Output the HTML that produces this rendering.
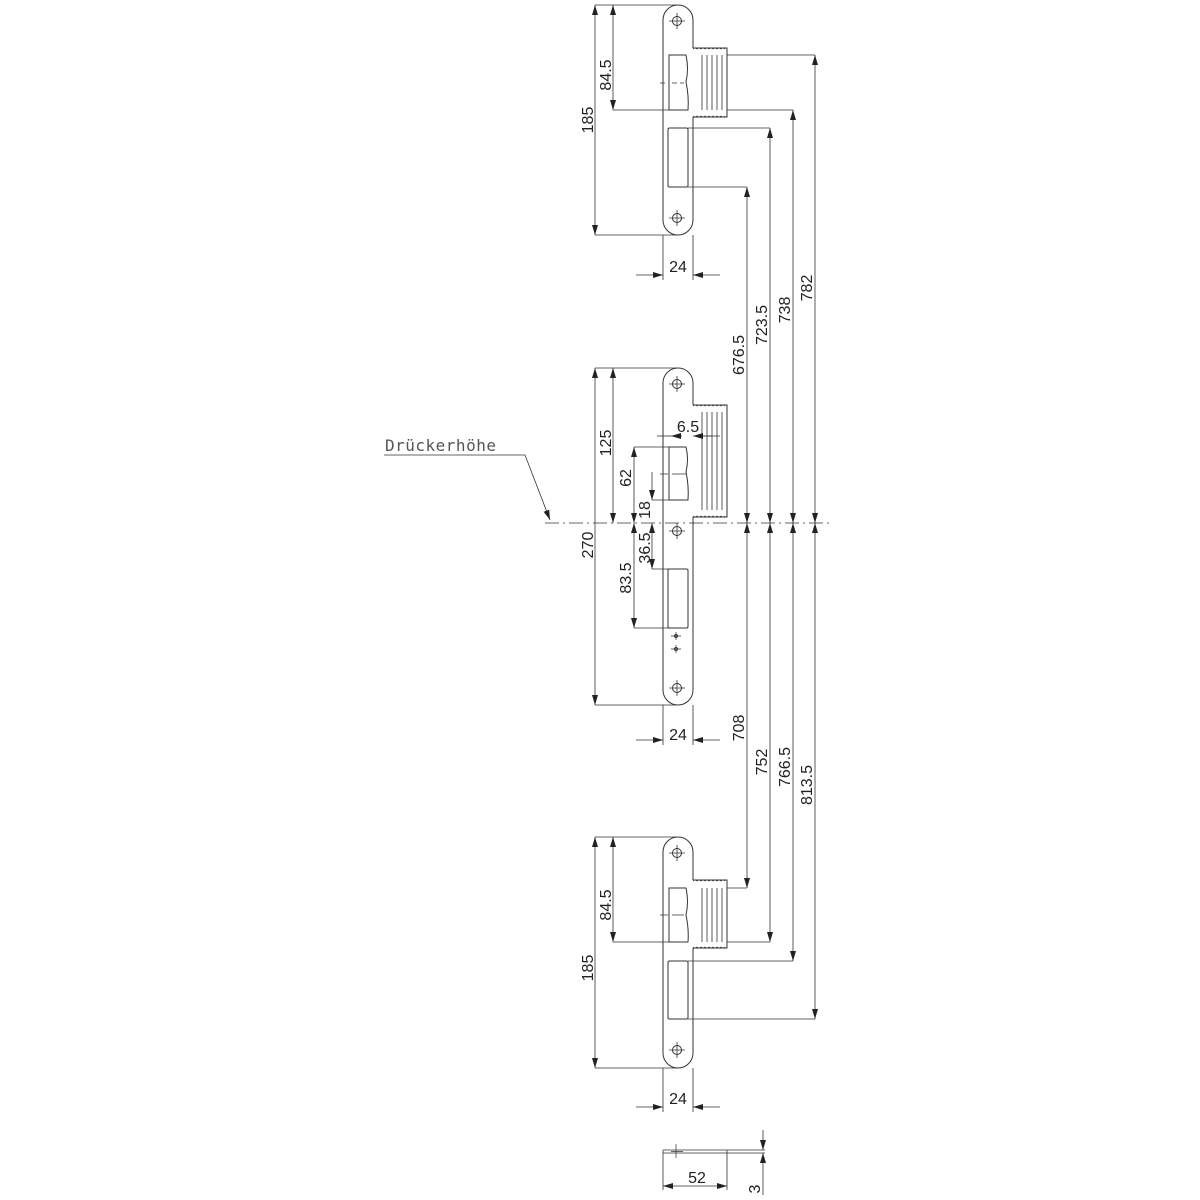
<!DOCTYPE html>
<html><head><meta charset="utf-8"><style>
html,body{margin:0;padding:0;background:#fff;}
svg{display:block;}
text{font-family:"Liberation Sans",Arial,sans-serif;font-size:16px;fill:#222;}
</style></head><body>
<svg width="1200" height="1200" viewBox="0 0 1200 1200" xmlns="http://www.w3.org/2000/svg">
<defs>
<marker id="a" viewBox="0 0 10 6" refX="10" refY="3" markerWidth="10" markerHeight="6" markerUnits="userSpaceOnUse" orient="auto-start-reverse">
<path d="M0,0 L10,3 L0,6 z" fill="#222"/></marker>
<g id="hole"><circle r="4.5" fill="none" stroke="#333" stroke-width="1"/><path d="M-8,0H8M0,-8V8" stroke="#333" stroke-width="0.8"/></g>
</defs>
<g fill="none" stroke="#333" stroke-width="1">
<path d="M663,220 V20 A15,15 0 0 1 693,20 V48"/>
<path d="M693,117 V220 A15,15 0 0 1 663,220"/>
<path d="M693,48 H727 V117 H693" />
<path d="M693,49 q2,-2 4,0 q2,-2 4,0 q2,-2 4,0 q2,-2 4,0 q2,-2 4,0 q2,-2 4,0 q2,-2 4,0 q2,-2 4,0 M693,116 q2,2 4,0 q2,2 4,0 q2,2 4,0 q2,2 4,0 q2,2 4,0 q2,2 4,0 q2,2 4,0 q2,2 4,0" stroke-width="0.6"/>
<path d="M669,55 H686 q3,14 0,27 q3,14 2,28 H669 Z"/>
<path d="M702,55V110M707,55V110M712,55V110M717,55V110M722,55V110" stroke-width="0.8"/>
<rect x="668" y="128" width="20" height="59" rx="1.5"/>
<path d="M660,83H668 M672,83H684" stroke-width="0.7" stroke-dasharray="5,3"/>
<use href="#hole" x="677" y="21"/><use href="#hole" x="677" y="218"/>
<path d="M663,690 V383 A15,15 0 0 1 693,383 V405"/>
<path d="M693,517 V690 A15,15 0 0 1 663,690"/>
<path d="M693,405 H727 V517 H693"/>
<path d="M693,406 q2,-2 4,0 q2,-2 4,0 q2,-2 4,0 q2,-2 4,0 q2,-2 4,0 q2,-2 4,0 q2,-2 4,0 q2,-2 4,0 M693,516 q2,2 4,0 q2,2 4,0 q2,2 4,0 q2,2 4,0 q2,2 4,0 q2,2 4,0 q2,2 4,0 q2,2 4,0" stroke-width="0.6"/>
<path d="M669,447 H686 q3,12 0,25 q3,14 2,28 H669 Z"/>
<path d="M702,412V510M707,412V510M712,412V510M717,412V510M722,412V510" stroke-width="0.8"/>
<rect x="668" y="569" width="20" height="59" rx="1.5"/>
<path d="M660,474H668 M672,474H686" stroke-width="0.7"/>
<use href="#hole" x="677" y="384"/><use href="#hole" x="677" y="531"/><use href="#hole" x="677" y="688"/>
<path d="M671,636H681M676,632V640M671,649H681M676,645V653" stroke-width="0.7"/>
<circle cx="676" cy="636" r="1.5"/><circle cx="676" cy="649" r="1.5"/>
<path d="M663,1053 V852 A15,15 0 0 1 693,852 V880"/>
<path d="M693,948 V1053 A15,15 0 0 1 663,1053"/>
<path d="M693,880 H727 V948 H693"/>
<path d="M693,881 q2,-2 4,0 q2,-2 4,0 q2,-2 4,0 q2,-2 4,0 q2,-2 4,0 q2,-2 4,0 q2,-2 4,0 q2,-2 4,0 M693,947 q2,2 4,0 q2,2 4,0 q2,2 4,0 q2,2 4,0 q2,2 4,0 q2,2 4,0 q2,2 4,0 q2,2 4,0" stroke-width="0.6"/>
<path d="M669,888 H686 q3,14 0,27 q3,14 2,27 H669 Z"/>
<path d="M702,888V942M707,888V942M712,888V942M717,888V942M722,888V942" stroke-width="0.8"/>
<rect x="668" y="961" width="20" height="58" rx="1.5"/>
<path d="M660,915H668 M672,915H684" stroke-width="0.7"/>
<use href="#hole" x="677" y="853"/><use href="#hole" x="677" y="1050"/>
</g>
<g fill="none" stroke="#333" stroke-width="0.8">
<path d="M595,5 H677 M613,110 H669 M595,235 H677"/>
<path d="M595,5V235" marker-start="url(#a)" marker-end="url(#a)"/>
<path d="M613,5V110" marker-start="url(#a)" marker-end="url(#a)"/>
<path d="M663,235V280 M693,235V280"/>
<path d="M636,275H663" marker-end="url(#a)"/><path d="M720,275H693" marker-end="url(#a)"/>
<path d="M727,55H815 M727,110H793 M688,128H770 M688,187H747"/>
<path d="M747,187V523" marker-start="url(#a)" marker-end="url(#a)"/>
<path d="M770,128V523" marker-start="url(#a)" marker-end="url(#a)"/>
<path d="M793,110V523" marker-start="url(#a)" marker-end="url(#a)"/>
<path d="M815,55V523" marker-start="url(#a)" marker-end="url(#a)"/>
<path d="M747,523V888" marker-start="url(#a)" marker-end="url(#a)"/>
<path d="M770,523V942" marker-start="url(#a)" marker-end="url(#a)"/>
<path d="M793,523V961" marker-start="url(#a)" marker-end="url(#a)"/>
<path d="M815,523V1019" marker-start="url(#a)" marker-end="url(#a)"/>
<path d="M727,888H747 M727,942H770 M688,961H793 M688,1019H815"/>
<path d="M595,368H677 M595,705H677"/>
<path d="M595,368V705" marker-start="url(#a)" marker-end="url(#a)"/>
<path d="M613,368V523" marker-start="url(#a)" marker-end="url(#a)"/>
<path d="M634,447H669 M634,628H669 M652,500H669 M652,569H669"/>
<path d="M634,447V523" marker-start="url(#a)" marker-end="url(#a)"/>
<path d="M634,523V628" marker-start="url(#a)" marker-end="url(#a)"/>
<path d="M652,472V500" marker-end="url(#a)"/>
<path d="M652,523V569" marker-start="url(#a)" marker-end="url(#a)"/>
<path d="M657,436H671" /><path d="M671,436H682" marker-start="url(#a)"/>
<path d="M695,436H720"/><path d="M693,436H712" marker-start="url(#a)"/>
<path d="M663,705V745 M693,705V745"/>
<path d="M636,740H663" marker-end="url(#a)"/><path d="M720,740H693" marker-end="url(#a)"/>
<path d="M545,523H830" stroke-dasharray="14,4,2,4"/>
<path d="M384,455H525 L550,520" marker-end="url(#a)"/>
<path d="M595,837H677 M613,942H669 M595,1068H677"/>
<path d="M595,837V1068" marker-start="url(#a)" marker-end="url(#a)"/>
<path d="M613,837V942" marker-start="url(#a)" marker-end="url(#a)"/>
<path d="M663,1068V1112 M693,1068V1112"/>
<path d="M636,1107H663" marker-end="url(#a)"/><path d="M720,1107H693" marker-end="url(#a)"/>
<path d="M663,1150H765 M663,1153H765 M663,1150V1190 M727,1150V1190"/>
<path d="M676,1144V1158 M671,1151.5H683" stroke-width="0.7"/>
<path d="M663,1186H727" marker-start="url(#a)" marker-end="url(#a)"/>
<path d="M763,1130V1150" marker-end="url(#a)"/>
<path d="M763,1175V1153" marker-end="url(#a)"/>
<path d="M763,1175V1195"/>
</g>
<g>
<text transform="translate(593,120) rotate(-90)" text-anchor="middle">185</text>
<text transform="translate(611,75) rotate(-90)" text-anchor="middle">84.5</text>
<text x="678" y="272" text-anchor="middle">24</text>
<text transform="translate(744,355) rotate(-90)" text-anchor="middle">676.5</text>
<text transform="translate(767,325) rotate(-90)" text-anchor="middle">723.5</text>
<text transform="translate(790,310) rotate(-90)" text-anchor="middle">738</text>
<text transform="translate(812,288) rotate(-90)" text-anchor="middle">782</text>
<text transform="translate(744,728) rotate(-90)" text-anchor="middle">708</text>
<text transform="translate(767,762) rotate(-90)" text-anchor="middle">752</text>
<text transform="translate(790,767) rotate(-90)" text-anchor="middle">766.5</text>
<text transform="translate(812,785) rotate(-90)" text-anchor="middle">813.5</text>
<text transform="translate(593,545) rotate(-90)" text-anchor="middle">270</text>
<text transform="translate(611,443) rotate(-90)" text-anchor="middle">125</text>
<text transform="translate(631,478) rotate(-90)" text-anchor="middle">62</text>
<text transform="translate(650,510) rotate(-90)" text-anchor="middle">18</text>
<text transform="translate(650,548) rotate(-90)" text-anchor="middle">36.5</text>
<text transform="translate(631,578) rotate(-90)" text-anchor="middle">83.5</text>
<text x="688" y="432" text-anchor="middle">6.5</text>
<text x="678" y="740" text-anchor="middle">24</text>
<text transform="translate(593,968) rotate(-90)" text-anchor="middle">185</text>
<text transform="translate(611,905) rotate(-90)" text-anchor="middle">84.5</text>
<text x="678" y="1104" text-anchor="middle">24</text>
<text x="697" y="1183" text-anchor="middle">52</text>
<text transform="translate(760,1189) rotate(-90)" text-anchor="middle">3</text>
<text x="385" y="451" style="font-family:'DejaVu Sans Mono','Liberation Mono',monospace;font-size:16px;fill:#555;letter-spacing:0.5px">Drückerhöhe</text>
</g>
</svg>
</body></html>
